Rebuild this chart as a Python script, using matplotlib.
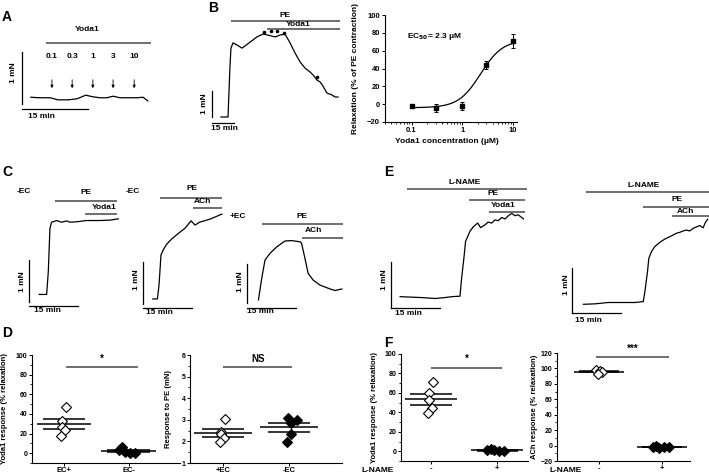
import numpy as np
import matplotlib
matplotlib.use('Agg')
import matplotlib.pyplot as plt
from matplotlib.ticker import FixedLocator, NullFormatter, MultipleLocator

W, H = 709, 474
plt.rcParams['font.family'] = ['Liberation Sans', 'DejaVu Sans']
plt.rcParams['font.weight'] = 'bold'
plt.rcParams['axes.labelweight'] = 'bold'
plt.rcParams['font.size'] = 5
plt.rcParams['axes.linewidth'] = 0.8

bar_grey = '#555555'
fs_txt = 6
fs_tick = 5.5
fs_lab = 6

# ---------------- data ----------------
# A: yoda1 cumulative, endothelium-intact (time in min, tension in mN)
A_t = [2.0, 4.0, 6.4, 8.2, 10.5, 12.5, 14.5, 16.0, 17.7, 19.3, 20.7, 22.3, 24.0, 26.1, 27.5, 28.6]
A_F = [0.13, 0.12, 0.12, 0.08, 0.08, 0.10, 0.17, 0.14, 0.12, 0.12, 0.15, 0.12, 0.12, 0.12, 0.13, 0.06]
A_conc = ['0.1', '0.3', '1', '3', '10']
A_add_t = [6.8, 11.4, 16.1, 20.7, 25.5]

# B: PE then yoda1
B_t = [6.1, 10.9, 12.2, 12.9, 14.3, 17.0, 20.4, 22.4, 25.9, 30.6, 34.7, 38.1, 42.9, 46.3, 49.7,
       53.1, 56.5, 59.9, 63.3, 66.7, 68.7, 71.4, 73.5, 75.5, 78.2, 81.6, 83.7, 85.7]
B_F = [0.0, 0.0, 1.92, 2.65, 2.85, 2.77, 2.65, 2.73, 2.88, 3.08, 3.19, 3.15, 3.08, 3.15, 3.19,
       2.85, 2.46, 2.12, 1.88, 1.73, 1.62, 1.42, 1.35, 1.19, 0.92, 0.85, 0.77, 0.77]
B_dot_t = [35.4, 40.1, 44.2, 49.0, 71.4]
B_dot_F = [3.27, 3.31, 3.31, 3.23, 1.54]

# B right: concentration-response
conc = [0.1, 0.3, 1, 3, 10]
relax = [-2, -4.3, -2, 44, 71]
relax_err = [2, 4.5, 4.5, 4, 7.8]
ec50, hill, bottom, top = 2.3, 2.0, -4, 72

# C traces
C1_t = [3.1, 5.4, 5.9, 6.4, 6.9, 8.5, 9.5, 10.0, 11.5, 12.5, 14.6, 17.6, 21.7, 24.8, 27.3]
C1_F = [0.18, 0.18, 0.72, 1.75, 1.90, 1.94, 1.91, 1.90, 1.93, 1.90, 1.91, 1.94, 1.94, 1.95, 1.98]
C2_t = [3.0, 4.4, 4.9, 5.5, 6.2, 7.2, 8.8, 10.8, 12.8, 14.7, 15.9, 17.4, 20.5, 24.1]
C2_F = [0.12, 0.12, 0.45, 1.17, 1.29, 1.42, 1.55, 1.68, 1.80, 1.98, 1.88, 1.95, 2.02, 2.14]
C3_t = [3.5, 4.5, 5.5, 7.0, 9.1, 11.6, 13.6, 16.2, 16.7, 17.7, 18.7, 20.2, 22.3, 25.4, 26.9, 29.0]
C3_F = [0.08, 0.63, 1.10, 1.27, 1.44, 1.59, 1.60, 1.57, 1.53, 1.15, 0.76, 0.59, 0.46, 0.36, 0.32, 0.36]

# E traces (L-NAME)
E1_t = [2.8, 9.4, 13.5, 16.5, 18.6, 21.1, 21.6, 22.4, 22.8, 24.2, 25.2, 26.5, 27.4, 28.7, 29.7,
        30.8, 31.8, 32.8, 33.8, 34.9, 35.9, 36.9, 37.9, 38.9, 40.0, 40.5]
E1_F = [0.24, 0.22, 0.20, 0.22, 0.24, 0.25, 0.64, 1.15, 1.44, 1.67, 1.76, 1.84, 1.74, 1.80, 1.86,
        1.84, 1.91, 1.89, 1.96, 1.93, 2.00, 2.05, 2.00, 2.02, 1.96, 1.93]
E2_t = [3.4, 6.9, 11.0, 15.1, 19.2, 21.7, 22.2, 23.0, 23.4, 24.2, 25.2, 26.8, 28.3, 30.3, 31.9,
        32.9, 33.9, 34.9, 35.9, 37.0, 38.0, 39.0, 40.0, 40.7, 41.4]
E2_F = [0.20, 0.21, 0.24, 0.24, 0.24, 0.26, 0.48, 0.93, 1.22, 1.37, 1.48, 1.58, 1.65, 1.72, 1.78,
        1.80, 1.83, 1.85, 1.83, 1.89, 1.92, 1.95, 1.90, 2.02, 2.09]

# D: endothelium
D1_ecplus = [47, 33, 27, 24, 18]
D1_ecminus = [3, 6, 1.3, 0.3, 0]
D2_plus = [3.03, 2.45, 2.33, 2.15, 1.96]
D2_minus = [3.1, 3.0, 2.85, 2.35, 1.97]
# F: L-NAME
F1_ctrl = [71.4, 59.5, 52.6, 45, 38.9]
F1_lname = [1, 2, 1.5, 0, 0.5]
F2_ctrl = [98, 97, 95.5, 93]
F2_lname = [-2, -1, -2.5, -2, -2]

jit5a = [0.03, -0.03, -0.03, 0.02, -0.05]
jit5b = [-0.15, -0.1, -0.05, 0.03, 0.1]
jit5c = [-0.02, 0.12, 0.03, 0.03, -0.03]
jit4 = [-0.05, 0.02, 0.05, -0.02]

fig = plt.figure(figsize=(W / 100, H / 100), dpi=100)


def px_axes(x0, y0, x1, y1):
    return fig.add_axes([x0 / W, 1 - y1 / H, (x1 - x0) / W, (y1 - y0) / H])


def trace_axes(ox, oy, sx, sy):
    ax = fig.add_axes([0, 0, 1, 1])
    ax.set_xlim(-ox / sx, (W - ox) / sx)
    ax.set_ylim((oy - H) / sy, oy / sy)
    ax.axis('off')
    ax.patch.set_alpha(0)
    return ax


def scale_bars(ax, hbar_F, tmin_pos, mn_pos):
    ax.plot([0, 0], [0, 1], color='black', lw=0.9)
    ax.plot([0, 15], [hbar_F, hbar_F], color='black', lw=0.9)
    ax.text(tmin_pos[0], tmin_pos[1], '15 min', ha='center', va='center', fontsize=fs_txt)
    ax.text(mn_pos[0], mn_pos[1], '1 mN', ha='center', va='center', rotation=90, fontsize=fs_txt)


def drug_bars(ax, bars):
    for lbl, t0, t1, fb, tl, fl in bars:
        ax.plot([t0, t1], [fb, fb], color=bar_grey, lw=1.2, solid_capstyle='butt')
        ax.text(tl, fl, lbl, ha='center', va='center', fontsize=fs_txt)


def letter(x, y, s):
    fig.text(x / W, 1 - y / H, s, fontsize=10, fontweight='bold', ha='left', va='center')


# ---------------- A ----------------
letter(2, 17, 'A')
ax = trace_axes(22, 104, 4.4, 52)
ax.plot(A_t, A_F, color='black', lw=0.9)
scale_bars(ax, -0.1, (4.5, -0.25), (-2.0, 0.6))
drug_bars(ax, [('Yoda1', 5.5, 29.3, 1.17, 14.8, 1.44)])
for c, t in zip(A_conc, A_add_t):
    ax.text(t, 0.92, c, ha='center', va='center', fontsize=fs_txt)
    ax.annotate('', xy=(t, 0.25), xytext=(t, 0.52),
                arrowprops=dict(arrowstyle='-|>', lw=0.6, color='black', mutation_scale=4))

# ---------------- B ----------------
letter(208, 8, 'B')
ax = trace_axes(212, 117, 1.47, 26)
ax.plot(B_t, B_F, color='black', lw=0.9)
ax.plot(B_dot_t, B_dot_F, 'o', color='black', ms=1.6)
scale_bars(ax, -0.23, (8.8, -0.46), (-4.8, 0.5))
drug_bars(ax, [('PE', 12.9, 87.1, 3.69, 49.7, 3.92), ('Yoda1', 37.4, 87.1, 3.38, 58.5, 3.54)])

# concentration-response
ax = px_axes(385, 15, 517, 122)
ax.set_xscale('log')
xs = np.logspace(-1, 1, 200)
ax.plot(xs, bottom + (top - bottom) / (1 + (ec50 / xs) ** hill), color='black', lw=0.9)
ax.errorbar(conc, relax, yerr=relax_err, fmt='s', color='black', ms=2.5, capsize=1.5, elinewidth=0.7,
            capthick=0.7)
ax.set_xlim(0.03, 12)
ax.set_ylim(-20, 100)
ax.set_yticks(range(-20, 101, 20))
ax.xaxis.set_major_locator(FixedLocator([0.1, 1, 10]))
ax.set_xticklabels(['0.1', '1', '10'])
ax.xaxis.set_minor_locator(FixedLocator([m * 10.0 ** e for e in (-2, -1, 0, 1) for m in range(2, 10)]))
ax.xaxis.set_minor_formatter(NullFormatter())
ax.spines['top'].set_visible(False)
ax.spines['right'].set_visible(False)
ax.tick_params(length=2, width=0.7, pad=1.5, labelsize=fs_tick)
ax.tick_params(which='minor', length=1.2, width=0.6)
ax.set_ylabel('Relaxation (% of PE contraction)', fontsize=fs_lab)
ax.yaxis.set_label_coords(-0.2, 0.5)
ax.set_xlabel('Yoda1 concentration (\u03bcM)', fontsize=fs_lab)
ax.xaxis.set_label_coords(0.47, -0.15)
ax.text(0.17, 0.8, 'EC$_{50}$= 2.3 \u03bcM', transform=ax.transAxes, fontsize=fs_txt, va='center')

# ---------------- C ----------------
letter(2, 172, 'C')
ax = trace_axes(29, 302, 3.27, 42)
ax.plot(C1_t, C1_F, color='black', lw=0.9)
scale_bars(ax, -0.1, (5.7, -0.21), (-2.1, 0.48))
drug_bars(ax, [('PE', 8.0, 26.9, 2.40, 17.4, 2.60), ('Yoda1', 17.1, 26.9, 2.10, 22.9, 2.26)])
ax.text(-1.5, 2.64, '-EC', ha='center', va='center', fontsize=fs_txt)

ax = trace_axes(143, 304, 3.27, 42)
ax.plot(C2_t, C2_F, color='black', lw=0.9)
scale_bars(ax, -0.09, (4.9, -0.21), (-2.1, 0.57))
drug_bars(ax, [('PE', 5.2, 24.2, 2.52, 15.0, 2.74), ('ACh', 15.3, 24.2, 2.29, 18.3, 2.43)])
ax.text(-3.1, 2.69, '-EC', ha='center', va='center', fontsize=fs_txt)

ax = trace_axes(247, 303, 3.27, 39)
ax.plot(C3_t, C3_F, color='black', lw=0.9)
scale_bars(ax, -0.12, (4.0, -0.22), (-2.1, 0.56))
drug_bars(ax, [('PE', 4.5, 29.5, 2.03, 16.7, 2.23), ('ACh', 16.7, 29.5, 1.67, 20.3, 1.87)])
ax.text(-2.8, 2.21, '+EC', ha='center', va='center', fontsize=fs_txt)

# ---------------- E ----------------
letter(384, 172, 'E')
ax = trace_axes(391, 307.7, 3.27, 46)
ax.plot(E1_t, E1_F, color='black', lw=0.9)
scale_bars(ax, 0, (5.3, -0.12), (-2.0, 0.6))
drug_bars(ax, [('L-NAME', 4.8, 41.5, 2.59, 22.6, 2.73), ('PE', 24.0, 41.0, 2.34, 31.3, 2.49),
               ('Yoda1', 30.1, 41.0, 2.09, 34.3, 2.22)])

ax = trace_axes(572.3, 313.3, 3.27, 45)
ax.plot(E2_t, E2_F, color='black', lw=0.9)
scale_bars(ax, 0, (4.9, -0.15), (-1.9, 0.63))
drug_bars(ax, [('L-NAME', 4.1, 41.8, 2.70, 21.8, 2.85), ('PE', 21.7, 41.8, 2.37, 31.9, 2.52),
               ('ACh', 30.4, 41.8, 2.16, 34.5, 2.27)])


# ---------------- scatter panels ----------------
def scatter_panel(box, groups, xlim, ylim, yticks, yminor, xlabels, ylabel, label_x, sig, mw, sw):
    ax = px_axes(*box)
    for pos, (vals, jit, filled) in enumerate(groups, start=1):
        vals = np.array(vals, dtype=float)
        m = vals.mean()
        s = vals.std(ddof=1) / np.sqrt(len(vals))
        ax.hlines(m, pos - mw, pos + mw, color='black', lw=1.1, zorder=2)
        ax.hlines([m - s, m + s], pos - sw, pos + sw, color='black', lw=1.1, zorder=2)
        ax.plot(pos + np.array(jit), vals, 'D', ms=4.6, mew=0.8, mec='black',
                mfc='black' if filled else 'white', zorder=3, clip_on=False)
    ax.set_xlim(*xlim)
    ax.set_ylim(*ylim)
    ax.set_yticks(yticks)
    ax.yaxis.set_minor_locator(MultipleLocator(yminor))
    ax.set_xticks([1, 2])
    ax.set_xticklabels(xlabels)
    ax.spines['top'].set_visible(False)
    ax.spines['right'].set_visible(False)
    ax.tick_params(length=2, width=0.7, pad=1.2, labelsize=5)
    ax.tick_params(axis='x', labelsize=5.5)
    ax.tick_params(which='minor', length=1.2, width=0.6)
    ax.set_ylabel(ylabel, fontsize=5.5)
    ax.yaxis.set_label_coords(-(box[0] - label_x) / (box[2] - box[0]), 0.5)
    x1, x2, yv, txt = sig
    ax.plot([x1, x2], [yv, yv], color=bar_grey, lw=1.2, solid_capstyle='butt')
    ax.text((x1 + x2) / 2, yv + (ylim[1] - ylim[0]) * 0.08, txt, ha='center', va='center', fontsize=7)
    return ax


letter(2, 333, 'D')
scatter_panel((32, 355, 180, 463), [(D1_ecplus, jit5a, False), (D1_ecminus, jit5b, True)],
              (0.5, 2.8), (-10, 100), range(0, 101, 20), 10, ['EC+', 'EC-'],
              'Yoda1 response (% relaxation)', 8, (1.03, 2.15, 87.3, '*'), 0.42, 0.33)
scatter_panel((190, 355, 342, 463), [(D2_plus, jit5a, False), (D2_minus, jit5c, True)],
              (0.5, 2.8), (1, 6), range(1, 7), 0.5, ['+EC', '-EC'],
              'Response to PE (mN)', 172, (1.0, 2.05, 5.43, 'NS'), 0.44, 0.32)

letter(384, 343, 'F')
scatter_panel((401, 354, 528, 461), [(F1_ctrl, jit5a, False), (F1_lname, jit5b, True)],
              (0.55, 2.46), (-10, 100), range(0, 101, 20), 10, ['-', '+'],
              'Yoda1 response (% relaxation)', 378, (1.0, 2.07, 85.9, '*'), 0.39, 0.31)
scatter_panel((557, 353, 690, 461), [(F2_ctrl, jit4, False), (F2_lname, jit5b, True)],
              (0.33, 2.44), (-20, 120), range(-20, 121, 20), 10, ['-', '+'],
              'ACh response (% relaxation)', 538, (0.95, 2.1, 114.3, '***'), 0.4, 0.32)
fig.text(362 / W, 1 - 470 / H, 'L-NAME', fontsize=fs_txt, va='center', ha='left')
fig.text(549 / W, 1 - 470 / H, 'L-NAME', fontsize=fs_txt, va='center', ha='left')

fig.savefig('out.png', dpi=100)
